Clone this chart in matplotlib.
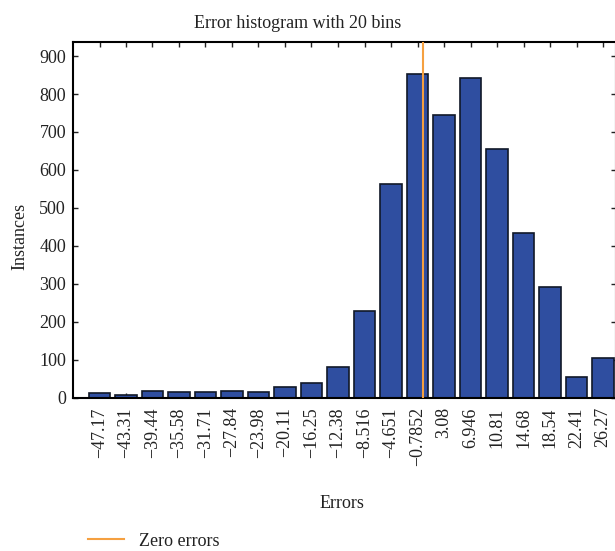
import numpy as np
import matplotlib
matplotlib.use("Agg")
import matplotlib.pyplot as plt

plt.rcParams['font.family'] = ['Liberation Serif', 'DejaVu Serif']

bin_centers = [-47.17, -43.31, -39.44, -35.58, -31.71, -27.84, -23.98, -20.11,
               -16.25, -12.38, -8.516, -4.651, -0.7852, 3.08, 6.946, 10.81,
               14.68, 18.54, 22.41, 26.27]
instances = [11, 7, 17, 15, 14, 17, 15, 28, 39, 80, 229, 564, 854, 744, 841,
             654, 433, 292, 55, 103]
tick_labels = [('%.4g' % c).replace('-', '\u2212') for c in bin_centers]

bin_width = (bin_centers[-1] - bin_centers[0]) / (len(bin_centers) - 1)

W, H = 615, 551
x0, x1, y0, y1 = 73, 616, 397.5, 41.7   # axes box in pixels
fig = plt.figure(figsize=(W / 100, H / 100), dpi=100)
ax = fig.add_axes([x0 / W, (H - y0) / H, (x1 - x0) / W, (y0 - y1) / H])

ax.bar(bin_centers, instances, width=0.8 * bin_width, color='#2f4ea0',
       edgecolor='#101828', linewidth=1.2, zorder=2)
zero_line = ax.axvline(0, color='#f5a040', linewidth=1.5, zorder=3,
                       label='Zero errors')

ax.set_xlim(bin_centers[0] - bin_width, bin_centers[0] + (x1 - 99.5) / 26.5 * bin_width)
ax.set_ylim(0, 938)
ax.set_xticks(bin_centers)
ax.set_xticklabels(tick_labels, rotation=90)
ax.set_yticks(np.arange(0, 901, 100))

ax.tick_params(direction='in', top=True, right=True, length=3.5, width=1,
               labelsize=13, colors='#222222', pad=5)
ax.tick_params(axis='x', pad=7)
for s in ax.spines.values():
    s.set_linewidth(1.5)
    s.set_color('black')

ax.set_title('Error histogram with 20 bins', fontsize=13, color='#222222',
             pad=10, x=(298 - x0) / (x1 - x0))
ax.set_xlabel('Errors', fontsize=13, color='#222222')
ax.xaxis.set_label_coords((342 - x0) / (x1 - x0), -(495 - y0) / (y0 - y1))
ax.set_ylabel('Instances', fontsize=13, color='#222222')
ax.yaxis.set_label_coords(-(x0 - 28) / (x1 - x0), (y0 - 236) / (y0 - y1))

fig.legend(handles=[zero_line], loc='center left', frameon=False, fontsize=13,
           bbox_to_anchor=(72 / W, 1 - 541 / H), handlelength=2.0,
           handletextpad=0.8, labelcolor='#222222')

fig.savefig('out.png', dpi=100)
